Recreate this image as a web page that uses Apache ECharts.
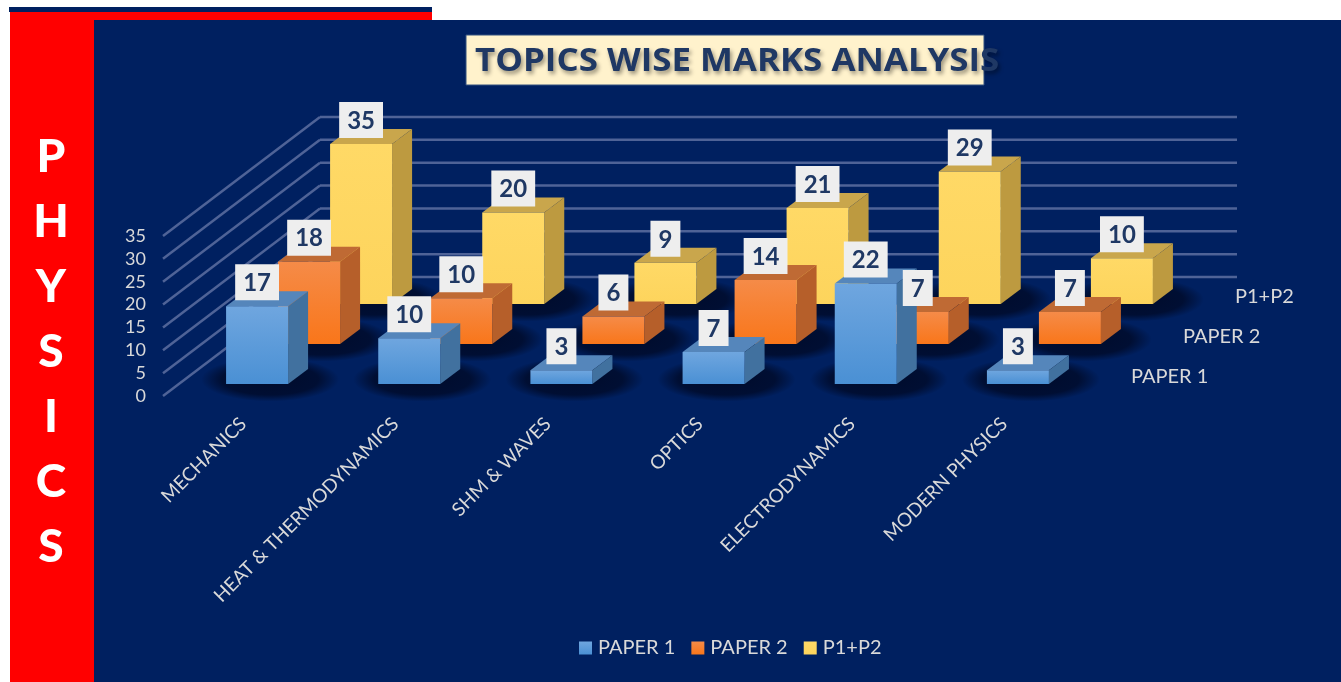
<!DOCTYPE html>
<html>
<head>
<meta charset="utf-8">
<title>Topics wise marks analysis</title>
<script src="https://cdn.jsdelivr.net/npm/echarts@6/dist/echarts.min.js"></script>
<style>
  html, body { margin: 0; padding: 0; background: #fff; }
  #chart { width: 1341px; height: 682px; }
</style>
</head>
<body>
<div id="chart"></div>
<script>
const topics = ["MECHANICS", "HEAT & THERMODYNAMICS", "SHM & WAVES", "OPTICS", "ELECTRODYNAMICS", "MODERN PHYSICS"];
const paper1 = [17, 10, 3, 7, 22, 3];
const paper2 = [18, 10, 6, 14, 7, 7];
const p1p2 = [35, 20, 9, 21, 29, 10];
const rowNames = ["PAPER 1", "PAPER 2", "P1+P2"];
const yTicks = [0, 5, 10, 15, 20, 25, 30, 35];

const rows = [paper1, paper2, p1p2];
// oblique projection: how far each row sits behind the front plane
const ROW_DX = [18, 70, 122];
const ROW_DY = [-12, -52, -92];
const WALL_DX = 157, WALL_DY = -119;
const BAR_DX = 20, BAR_DY = -15;
const BAR_W = 62;
const FONT = "Lato, 'Noto Sans', sans-serif";

const faces = [
  { top: "#5586bb", side: "#41719f", front: ["#6fa6df", "#4a90d4"] },
  { top: "#bf6a34", side: "#b65f2a", front: ["#f58b48", "#f9761a"] },
  { top: "#c9a64c", side: "#bd9a40", front: ["#ffd966", "#fdd45c"] },
];

function vgrad(c) {
  return new echarts.graphic.LinearGradient(0, 0, 0, 1, [
    { offset: 0, color: c[0] },
    { offset: 1, color: c[1] },
  ]);
}

function renderBar(row) {
  return function (params, api) {
    const p = api.coord([api.value(0), api.value(1)]);
    const b = api.coord([api.value(0), 0]);
    const l = p[0] + ROW_DX[row] - BAR_W / 2;
    const r = l + BAR_W;
    const t = p[1] + ROW_DY[row];
    const y0 = b[1] + ROW_DY[row];
    const f = faces[row];
    return {
      type: "group",
      children: [
        {
          type: "polygon",
          shape: { points: [[l, t], [r, t], [r + BAR_DX, t + BAR_DY], [l + BAR_DX, t + BAR_DY]] },
          style: { fill: f.top },
        },
        {
          type: "polygon",
          shape: { points: [[r, t], [r + BAR_DX, t + BAR_DY], [r + BAR_DX, y0 + BAR_DY], [r, y0]] },
          style: { fill: f.side },
        },
        {
          type: "rect",
          shape: { x: l, y: t, width: BAR_W, height: y0 - t },
          style: { fill: vgrad(f.front) },
        },
      ],
    };
  };
}

// soft dark glow on the floor under each bar: a blurred circle stretched sideways
const floorGlow = new echarts.graphic.RadialGradient(0.5, 0.5, 0.5, [
  { offset: 0, color: "rgba(0,10,40,0.95)" },
  { offset: 0.7, color: "rgba(0,10,40,0.8)" },
  { offset: 1, color: "rgba(0,10,40,0)" },
]);

function renderShadow(params, api) {
  const row = api.value(1);
  const b = api.coord([api.value(0), 0]);
  const l = b[0] + ROW_DX[row] - BAR_W / 2;
  const y0 = b[1] + ROW_DY[row];
  return {
    type: "circle",
    x: l + (BAR_W + BAR_DX) / 2 + 3,
    y: y0 + BAR_DY / 2 + 3,
    scaleX: (BAR_W + BAR_DX + 56) / 44,
    shape: { cx: 0, cy: 0, r: 22 },
    style: { fill: floorGlow },
  };
}

function renderWall(params, api) {
  const sys = params.coordSys;
  const y = api.coord([0, api.value(0)])[1];
  const line = { stroke: "#4f6397", lineWidth: 2.5 };
  return {
    type: "group",
    children: [
      { type: "line", shape: { x1: sys.x, y1: y, x2: sys.x + WALL_DX, y2: y + WALL_DY }, style: line },
      { type: "line", shape: { x1: sys.x + WALL_DX, y1: y + WALL_DY, x2: sys.x + sys.width + WALL_DX + 4, y2: y + WALL_DY }, style: line },
    ],
  };
}

function renderValue(params, api) {
  const row = api.value(2);
  const val = api.value(1);
  const p = api.coord([api.value(0), val]);
  return {
    type: "text",
    x: p[0] + ROW_DX[row],
    y: p[1] + ROW_DY[row] - 6,
    style: {
      text: String(val),
      font: "bold 24px " + FONT,
      fill: "#1f3864",
      align: "center",
      verticalAlign: "bottom",
      backgroundColor: "#eeeeee",
      padding: [7, 8, 5, 8],
    },
  };
}

function renderRowName(params, api) {
  const row = api.value(0);
  const sys = params.coordSys;
  const y = api.coord([0, 0])[1];
  return {
    type: "text",
    x: sys.x + sys.width + ROW_DX[row] + 37,
    y: y + ROW_DY[row] - 7,
    style: {
      text: rowNames[row],
      font: "20px " + FONT,
      fill: "#d9d9d9",
      align: "left",
      verticalAlign: "middle",
    },
  };
}

const barSeries = rows.map((vals, row) => ({
  name: rowNames[row],
  type: "custom",
  z: 3 + (2 - row),
  clip: false,
  renderItem: renderBar(row),
  encode: { x: 0, y: 1 },
  itemStyle: { color: vgrad(faces[row].front) },
  data: vals.map((v, i) => [i, v]),
}));

const footprints = [];
const valueBoxes = [];
rows.forEach((vals, row) => {
  vals.forEach((v, i) => {
    footprints.push([i, row]);
    valueBoxes.push([i, v, row]);
  });
});

const chart = echarts.init(document.getElementById("chart"));
chart.setOption({
  animation: false,
  backgroundColor: "#fff",
  textStyle: { fontFamily: FONT },
  legend: {
    data: rowNames,
    left: 579,
    top: 638,
    padding: 0,
    icon: "rect",
    itemWidth: 13,
    itemHeight: 13,
    itemGap: 16,
    selectedMode: false,
    textStyle: { color: "#d9d9d9", fontFamily: FONT, fontSize: 20, padding: [0, 0, 0, 1] },
  },
  grid: { left: 163, top: 236, width: 913, height: 160 },
  xAxis: {
    type: "category",
    data: topics,
    axisLine: { show: false },
    axisTick: { show: false },
    axisLabel: { rotate: 45, interval: 0, margin: 29, padding: [0, -6, 0, 0], color: "#d9d9d9", fontFamily: FONT, fontSize: 19 },
  },
  yAxis: {
    type: "value",
    min: 0,
    max: 35,
    interval: 5,
    axisLine: { show: false },
    axisTick: { show: false },
    splitLine: { show: false },
    axisLabel: { margin: 17, color: "#d9d9d9", fontFamily: FONT, fontSize: 18 },
  },
  graphic: [
    { type: "rect", z: -10, shape: { x: 94, y: 20, width: 1247, height: 662 }, style: { fill: "#002060" } },
    { type: "rect", z: -10, shape: { x: 10, y: 12, width: 84, height: 670 }, style: { fill: "#ff0000" } },
    { type: "rect", z: -10, shape: { x: 10, y: 12, width: 422, height: 8 }, style: { fill: "#ff0000" } },
    { type: "rect", z: -10, shape: { x: 9, y: 7, width: 423, height: 5 }, style: { fill: "#002060" } },
    {
      type: "text",
      z: -9,
      x: 51,
      y: 125,
      style: {
        text: "P\nH\nY\nS\nI\nC\nS",
        font: "900 46px " + FONT,
        fill: "#fff",
        align: "center",
        lineHeight: 65,
      },
    },
    {
      type: "rect",
      z: -9,
      shape: { x: 466, y: 35, width: 518, height: 50 },
      style: { fill: "#fff2cc", stroke: "#33507f", lineWidth: 1 },
    },
    {
      type: "text",
      z: -8,
      x: 475,
      y: 62,
      scaleX: 1.09,
      style: {
        text: "TOPICS WISE MARKS ANALYSIS",
        font: "bold 32px 'Open Sans', Lato, sans-serif",
        fill: "#1f3864",
        align: "left",
        verticalAlign: "middle",
        textShadowColor: "rgba(0,0,0,0.4)",
        textShadowBlur: 4,
        textShadowOffsetX: 2,
        textShadowOffsetY: 3,
      },
    },
  ],
  series: [
    {
      name: "walls",
      type: "custom",
      z: 1,
      clip: false,
      renderItem: renderWall,
      encode: { y: 0 },
      data: yTicks.map((t) => [t]),
    },
    {
      name: "floor shadow",
      type: "custom",
      z: 2,
      clip: false,
      renderItem: renderShadow,
      data: footprints,
    },
    ...barSeries,
    {
      name: "value boxes",
      type: "custom",
      z: 8,
      clip: false,
      renderItem: renderValue,
      data: valueBoxes,
    },
    {
      name: "row names",
      type: "custom",
      z: 8,
      clip: false,
      renderItem: renderRowName,
      data: rowNames.map((n, i) => [i]),
    },
  ],
});
</script>
</body>
</html>
